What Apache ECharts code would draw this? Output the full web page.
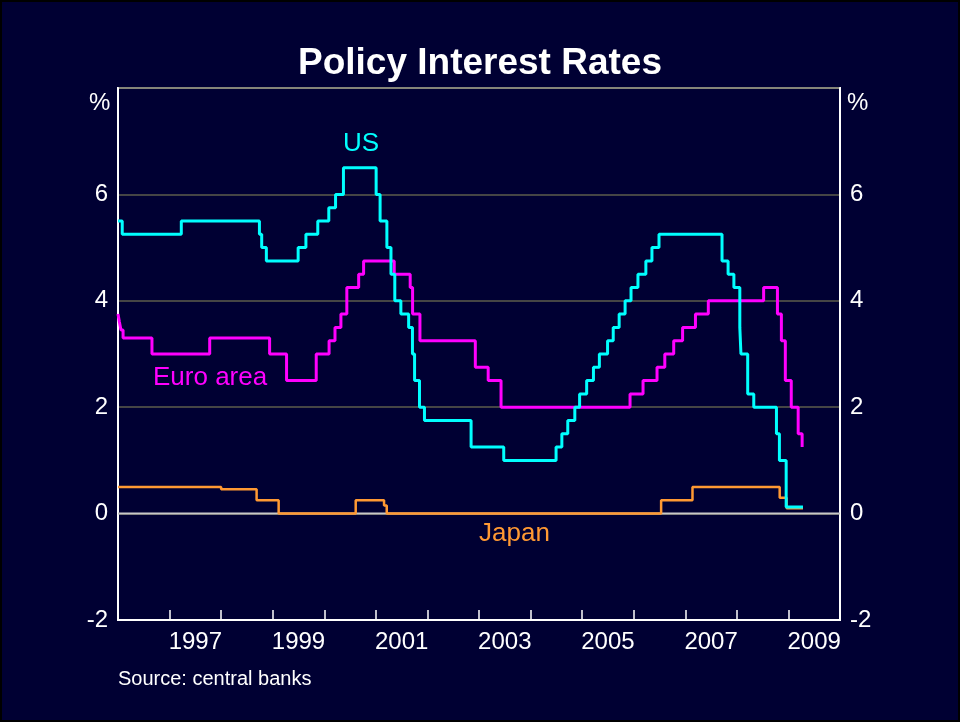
<!DOCTYPE html>
<html>
<head>
<meta charset="utf-8">
<script src="https://cdn.jsdelivr.net/npm/echarts@6/dist/echarts.min.js"></script>
<style>
  html, body { margin: 0; padding: 0; background: #000; }
  #wrap { position: relative; width: 960px; height: 722px; }
  #chart { width: 960px; height: 722px; }
  #frame { position: absolute; left: 0; top: 0; width: 960px; height: 722px; box-sizing: border-box; border: 2px solid #000; pointer-events: none; }
</style>
</head>
<body>
<div id="wrap"><div id="chart"></div><div id="frame"></div></div>
<script>
// ---- Data (policy rate changes: date, new rate in %) ----
const usDates = ['1996-01-01','1996-01-31','1997-03-25','1998-09-29','1998-10-15','1998-11-17','1999-06-30','1999-08-24','1999-11-16','2000-02-02','2000-03-21','2000-05-16','2001-01-03','2001-01-31','2001-03-20','2001-04-18','2001-05-15','2001-06-27','2001-08-21','2001-09-17','2001-10-02','2001-11-06','2001-12-11','2002-11-06','2003-06-25','2004-06-30','2004-08-10','2004-09-21','2004-11-10','2004-12-14','2005-02-02','2005-03-22','2005-05-03','2005-06-30','2005-08-09','2005-09-20','2005-11-01','2005-12-13','2006-01-31','2006-03-28','2006-05-10','2006-06-29','2007-09-18','2007-10-31','2007-12-11','2008-01-22','2008-01-30','2008-03-18','2008-04-30','2008-10-08','2008-10-29','2008-12-16','2009-04-14'];
const usRates = [5.5,5.25,5.5,5.25,5.0,4.75,5.0,5.25,5.5,5.75,6.0,6.5,6.0,5.5,5.0,4.5,4.0,3.75,3.5,3.0,2.5,2.0,1.75,1.25,1.0,1.25,1.5,1.75,2.0,2.25,2.5,2.75,3.0,3.25,3.5,3.75,4.0,4.25,4.5,4.75,5.0,5.25,4.75,4.5,4.25,3.5,3.0,2.25,2.0,1.5,1.0,0.125,0.125];

const euroDates = ['1996-01-01','1996-01-11','1996-01-22','1996-02-06','1996-08-29','1997-10-12','1998-12-10','1999-04-09','1999-11-05','2000-02-04','2000-03-17','2000-04-28','2000-06-09','2000-09-01','2000-10-06','2001-05-11','2001-09-01','2001-09-18','2001-11-09','2002-12-06','2003-03-07','2003-06-06','2005-12-06','2006-03-08','2006-06-15','2006-08-09','2006-10-11','2006-12-13','2007-03-14','2007-06-13','2008-07-09','2008-10-15','2008-11-12','2008-12-10','2009-01-21','2009-03-11','2009-04-08'];
const euroRates = [3.75,3.6,3.45,3.3,3.0,3.3,3.0,2.5,3.0,3.25,3.5,3.75,4.25,4.5,4.75,4.5,4.25,3.75,3.25,2.75,2.5,2.0,2.25,2.5,2.75,3.0,3.25,3.5,3.75,4.0,4.25,3.75,3.25,2.5,2.0,1.5,1.25];

const japanDates = ['1996-01-01','1998-01-01','1998-09-09','1999-02-12','2000-08-11','2001-02-28','2001-03-19','2006-07-14','2007-02-21','2008-10-31','2008-12-19','2009-04-14'];
const japanRates = [0.5,0.46,0.25,0.0,0.25,0.15,0.0,0.25,0.5,0.3,0.1,0.1];

const xMin = 1996, xMax = 2010;
const yMin = -2, yMax = 8, yStep = 2;
const yearLabels = [1997, 1999, 2001, 2003, 2005, 2007, 2009];

// ---- helpers ----
function toYear(s) {
  const d = new Date(s + 'T00:00:00Z');
  const y = d.getUTCFullYear();
  const start = Date.UTC(y, 0, 1), end = Date.UTC(y + 1, 0, 1);
  return y + (d.getTime() - start) / (end - start);
}
function pairs(dates, vals) { return dates.map((d, i) => [toYear(d), vals[i]]); }

const chart = echarts.init(document.getElementById('chart'));
const font = 'Liberation Sans, Arial, sans-serif';
const gridColor = '#5c5c4c';

chart.setOption({
  animation: false,
  backgroundColor: '#000033',
  title: {
    text: 'Policy Interest Rates', left: 'center', top: 40,
    textStyle: { color: '#fff', fontSize: 37, fontWeight: 'bold', fontFamily: font }
  },
  grid: { left: 118, right: 120, top: 88, bottom: 102, show: true, borderColor: '#fff', borderWidth: 2, backgroundColor: 'transparent' },
  xAxis: [
    { type: 'value', min: xMin, max: xMax, interval: 1, position: 'bottom',
      axisLine: { show: true, onZero: false, lineStyle: { color: '#fff', width: 2 } },
      axisTick: { show: true, inside: true, length: 10, lineStyle: { color: '#fff', width: 1.5 } },
      axisLabel: { show: false }, splitLine: { show: false } },
    { type: 'value', min: xMin, max: xMax, interval: 0.5, position: 'bottom',
      axisLine: { show: false }, axisTick: { show: false }, splitLine: { show: false },
      axisLabel: { show: true, color: '#fff', fontSize: 24, fontFamily: font, margin: 10,
        formatter: v => { const y = Math.floor(v); return (Math.abs(v - y - 0.5) < 1e-6 && yearLabels.includes(y)) ? String(y) : ''; } } }
  ],
  yAxis: [
    { type: 'value', min: yMin, max: yMax, interval: yStep, position: 'left',
      axisLine: { show: true, onZero: false, lineStyle: { color: '#fff', width: 2 } },
      axisTick: { show: false },
      axisLabel: { color: '#fff', fontSize: 24, fontFamily: font, margin: 10, formatter: v => v === yMax ? '' : String(v) },
      splitLine: { show: true, lineStyle: { color: gridColor, width: 1.5 } } },
    { type: 'value', min: yMin, max: yMax, interval: yStep, position: 'right',
      axisLine: { show: true, onZero: false, lineStyle: { color: '#fff', width: 2 } },
      axisTick: { show: false },
      axisLabel: { color: '#fff', fontSize: 24, fontFamily: font, margin: 10, formatter: v => v === yMax ? '' : String(v) },
      splitLine: { show: false } }
  ],
  graphic: [
    { type: 'text', left: 89, top: 91, style: { text: '%', fill: '#fff', font: '24px ' + font } },
    { type: 'text', left: 847, top: 91, style: { text: '%', fill: '#fff', font: '24px ' + font } },
    { type: 'text', left: 343, top: 131, style: { text: 'US', fill: '#00ffff', font: '26px ' + font } },
    { type: 'text', left: 153, top: 365, style: { text: 'Euro area', fill: '#ff00ff', font: '26px ' + font } },
    { type: 'text', left: 479, top: 521, style: { text: 'Japan', fill: '#ff9933', font: '26px ' + font } },
    { type: 'text', left: 118, top: 669, style: { text: 'Source: central banks', fill: '#fff', font: '20px ' + font } }
  ],
  series: [
    { name: 'zero', type: 'line', xAxisIndex: 0, yAxisIndex: 0, data: [[xMin, 0], [xMax, 0]], symbol: 'none', silent: true,
      lineStyle: { color: '#c8c8c8', width: 2 } },
    { name: 'Japan', type: 'line', xAxisIndex: 0, yAxisIndex: 0, step: 'end', data: pairs(japanDates, japanRates), symbol: 'none',
      lineStyle: { color: '#ff9933', width: 2.5 } },
    { name: 'Euro area', type: 'line', xAxisIndex: 0, yAxisIndex: 0, step: 'end', data: pairs(euroDates, euroRates), symbol: 'none',
      lineStyle: { color: '#ff00ff', width: 3 } },
    { name: 'US', type: 'line', xAxisIndex: 0, yAxisIndex: 0, step: 'end', data: pairs(usDates, usRates), symbol: 'none',
      lineStyle: { color: '#00ffff', width: 3 } }
  ]
});
</script>
</body>
</html>
